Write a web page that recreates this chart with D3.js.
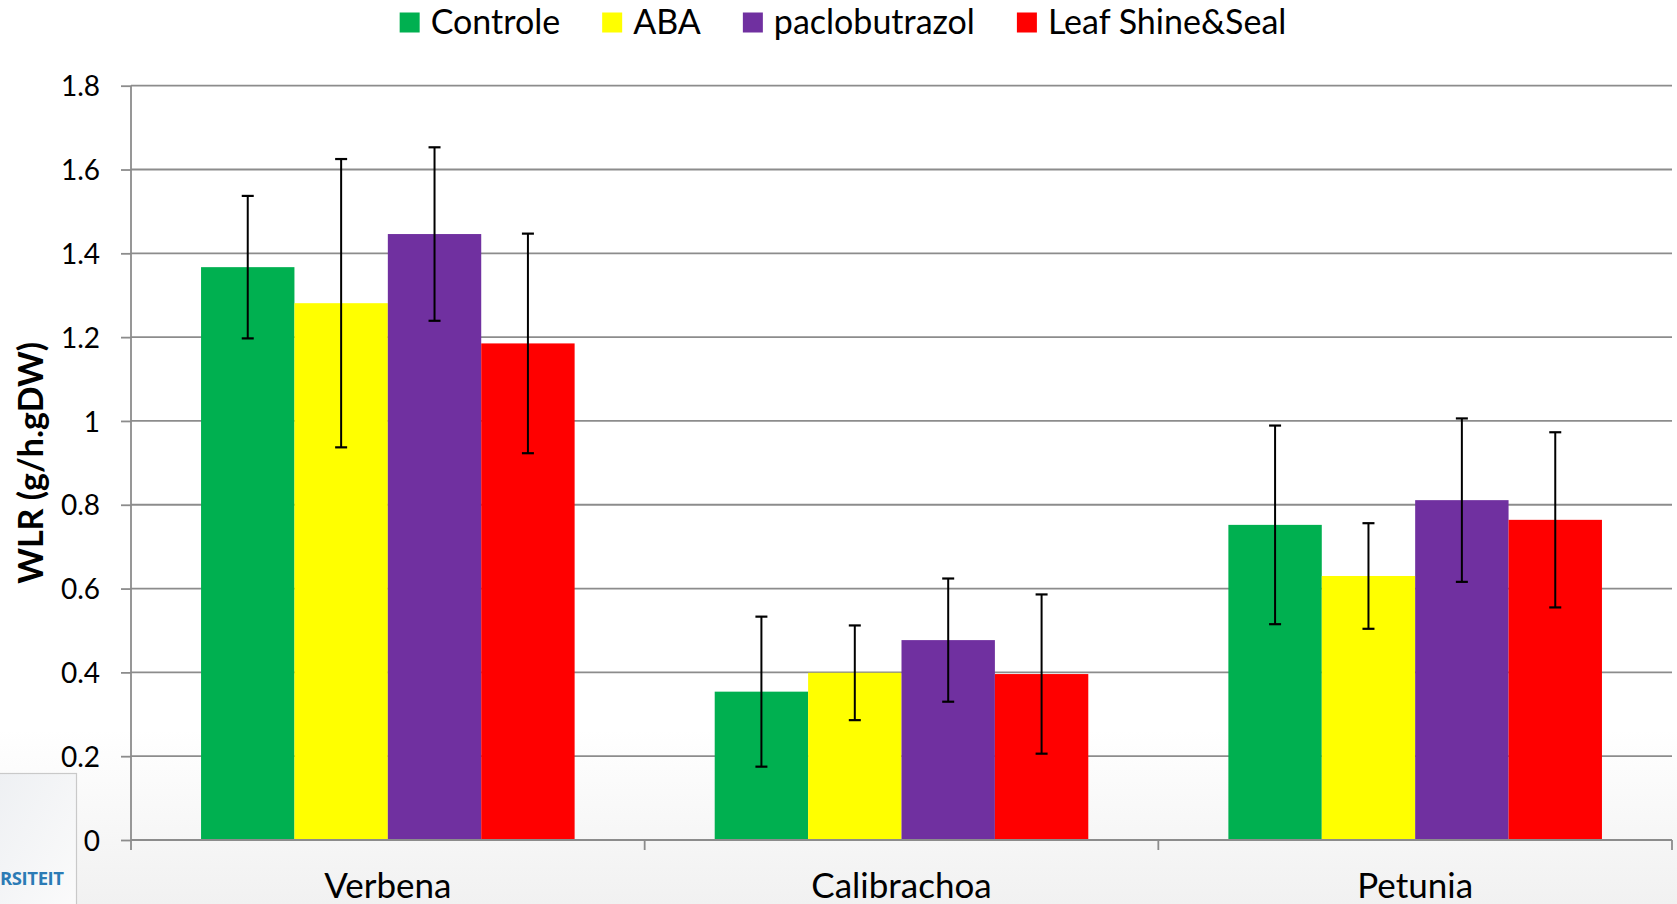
<!DOCTYPE html>
<html>
<head>
<meta charset="utf-8">
<script src="https://cdn.jsdelivr.net/npm/d3@7"></script>
<style>
  html, body { margin: 0; padding: 0; background: #ffffff; }
  svg { display: block; }
  text { font-family: Lato, "Open Sans", sans-serif; fill: #000; }
</style>
</head>
<body>
<svg id="chart" width="1677" height="904"></svg>
<script>
// Water loss rate per species and treatment
const categories = ["Verbena", "Calibrachoa", "Petunia"];
const seriesNames = ["Controle", "ABA", "paclobutrazol", "Leaf Shine&Seal"];
const seriesColors = ["#00B050", "#FFFF00", "#7030A0", "#FF0000"];

const controleValues = [1.367, 0.354, 0.752];
const abaValues      = [1.281, 0.399, 0.630];
const pacloValues    = [1.446, 0.477, 0.811];
const leafValues     = [1.185, 0.396, 0.764];

const controleErr = [0.170, 0.179, 0.237];
const abaErr      = [0.344, 0.113, 0.126];
const pacloErr    = [0.207, 0.147, 0.195];
const leafErr     = [0.262, 0.190, 0.209];

const yTicks = [0, 0.2, 0.4, 0.6, 0.8, 1, 1.2, 1.4, 1.6, 1.8];
const yTitle = "WLR (g/h.gDW)";

const seriesValues = [controleValues, abaValues, pacloValues, leafValues];
const seriesErrors = [controleErr, abaErr, pacloErr, leafErr];

const svg = d3.select("#chart");
const W = 1677, H = 904;
const plot = { left: 131, right: 1672, top: 85.7, bottom: 840 };

// soft grey fade towards the bottom of the slide
const defs = svg.append("defs");
const bg = defs.append("linearGradient").attr("id", "bgFade")
  .attr("x1", 0).attr("y1", 0).attr("x2", 0).attr("y2", 1);
bg.append("stop").attr("offset", "0%").attr("stop-color", "#ffffff");
bg.append("stop").attr("offset", "100%").attr("stop-color", "#f1f1f1");
svg.append("rect").attr("x", 0).attr("y", 0).attr("width", W).attr("height", H).attr("fill", "#ffffff");
svg.append("rect").attr("x", 0).attr("y", 730).attr("width", W).attr("height", H - 730).attr("fill", "url(#bgFade)");

// logo box in the lower-left corner
const logoFade = defs.append("linearGradient").attr("id", "logoFade")
  .attr("x1", 0).attr("y1", 0).attr("x2", 1).attr("y2", 1);
logoFade.append("stop").attr("offset", "0%").attr("stop-color", "#eef0f3");
logoFade.append("stop").attr("offset", "100%").attr("stop-color", "#fbfbfb");
svg.append("rect").attr("x", -2).attr("y", 773.5).attr("width", 78.5).attr("height", 140)
  .attr("fill", "url(#logoFade)").attr("stroke", "#c9c9c9").attr("stroke-width", 1.2);
svg.append("text").attr("x", 0).attr("y", 885)
  .style("font-family", "'Liberation Sans Narrow', 'Open Sans', sans-serif")
  .style("font-size", "18.5px").style("font-weight", "bold").style("fill", "#2b7bb5")
  .style("letter-spacing", "-0.4px")
  .text("RSITEIT");

const y = d3.scaleLinear().domain([0, 1.8]).range([plot.bottom, plot.top]);
const x0 = d3.scaleBand().domain(categories).range([plot.left, plot.right]).padding(0);
const x1 = d3.scaleBand().domain(seriesNames).range([0, x0.bandwidth()])
  .paddingInner(0).paddingOuter(0.75);

// horizontal gridlines
svg.append("g").selectAll("line").data(yTicks.filter(d => d > 0)).join("line")
  .attr("x1", plot.left).attr("x2", plot.right)
  .attr("y1", d => y(d)).attr("y2", d => y(d))
  .attr("stroke", "#8c8c8c").attr("stroke-width", 1.8);

// bars
const groups = svg.append("g").selectAll("g").data(categories).join("g")
  .attr("transform", d => `translate(${x0(d)},0)`);

groups.selectAll("rect")
  .data((c, ci) => seriesNames.map((s, si) => ({ s, si, v: seriesValues[si][ci], e: seriesErrors[si][ci] })))
  .join("rect")
  .attr("x", d => x1(d.s))
  .attr("y", d => y(d.v))
  .attr("width", x1.bandwidth())
  .attr("height", d => y(0) - y(d.v))
  .attr("fill", d => seriesColors[d.si]);

// error bars
const errG = groups.selectAll("g.err")
  .data((c, ci) => seriesNames.map((s, si) => ({ s, si, v: seriesValues[si][ci], e: seriesErrors[si][ci] })))
  .join("g").attr("class", "err")
  .attr("transform", d => `translate(${x1(d.s) + x1.bandwidth() / 2},0)`);
errG.append("line")
  .attr("x1", 0).attr("x2", 0)
  .attr("y1", d => y(d.v + d.e)).attr("y2", d => y(d.v - d.e))
  .attr("stroke", "#000").attr("stroke-width", 2);
errG.selectAll("line.cap").data(d => [d.v + d.e, d.v - d.e]).join("line")
  .attr("class", "cap")
  .attr("x1", -6).attr("x2", 6)
  .attr("y1", d => y(d)).attr("y2", d => y(d))
  .attr("stroke", "#000").attr("stroke-width", 2.2);

// y axis
const yAxis = d3.axisLeft(y).tickValues(yTicks).tickSize(10).tickSizeOuter(0)
  .tickFormat(d => d3.format("")(+d.toFixed(1)));
const yAxisG = svg.append("g").attr("transform", `translate(${plot.left},0)`).call(yAxis);
yAxisG.select(".domain").attr("stroke", "#8c8c8c").attr("stroke-width", 1.8)
  .attr("d", `M0,${plot.top}V${plot.bottom + 10}`);
yAxisG.selectAll(".tick line").attr("stroke", "#8c8c8c").attr("stroke-width", 1.8);
yAxisG.selectAll(".tick text").attr("x", -31).attr("dy", "0.36em")
  .style("font-size", "28px").style("font-family", "Lato, sans-serif").attr("fill", "#000");

// x axis with boundary ticks between categories
const xAxisG = svg.append("g");
xAxisG.append("line").attr("x1", plot.left).attr("x2", plot.right)
  .attr("y1", plot.bottom).attr("y2", plot.bottom)
  .attr("stroke", "#8c8c8c").attr("stroke-width", 1.8);
const bounds = categories.map(c => x0(c)).concat([x0(categories[categories.length - 1]) + x0.bandwidth()]);
xAxisG.selectAll("line.bt").data(bounds.slice(1)).join("line").attr("class", "bt")
  .attr("x1", d => d).attr("x2", d => d)
  .attr("y1", plot.bottom).attr("y2", plot.bottom + 10)
  .attr("stroke", "#8c8c8c").attr("stroke-width", 1.8);
xAxisG.selectAll("text").data(categories).join("text")
  .attr("x", d => x0(d) + x0.bandwidth() / 2).attr("y", 898)
  .attr("text-anchor", "middle")
  .style("font-size", "35px")
  .text(d => d);

// y axis title
svg.append("text")
  .attr("transform", `translate(43,${(plot.top + plot.bottom) / 2}) rotate(-90)`)
  .attr("text-anchor", "middle")
  .style("font-size", "34px").style("font-weight", "bold")
  .text(yTitle);

// legend, centred along the top
const legendGap = 42;
const legend = svg.append("g");
const items = legend.selectAll("g").data(seriesNames).join("g");
items.append("rect").attr("width", 20).attr("height", 20).attr("y", 12.5)
  .attr("fill", (d, i) => seriesColors[i]);
items.append("text").attr("x", 31).attr("y", 33.5)
  .style("font-size", "34px").text(d => d);
let cursor = 0;
items.each(function () {
  const g = d3.select(this);
  g.attr("transform", `translate(${cursor},0)`);
  const w = 31 + g.select("text").node().getComputedTextLength();
  cursor += w + legendGap;
});
const legendWidth = cursor - legendGap;
legend.attr("transform", `translate(${843 - legendWidth / 2},0)`);
</script>
</body>
</html>
